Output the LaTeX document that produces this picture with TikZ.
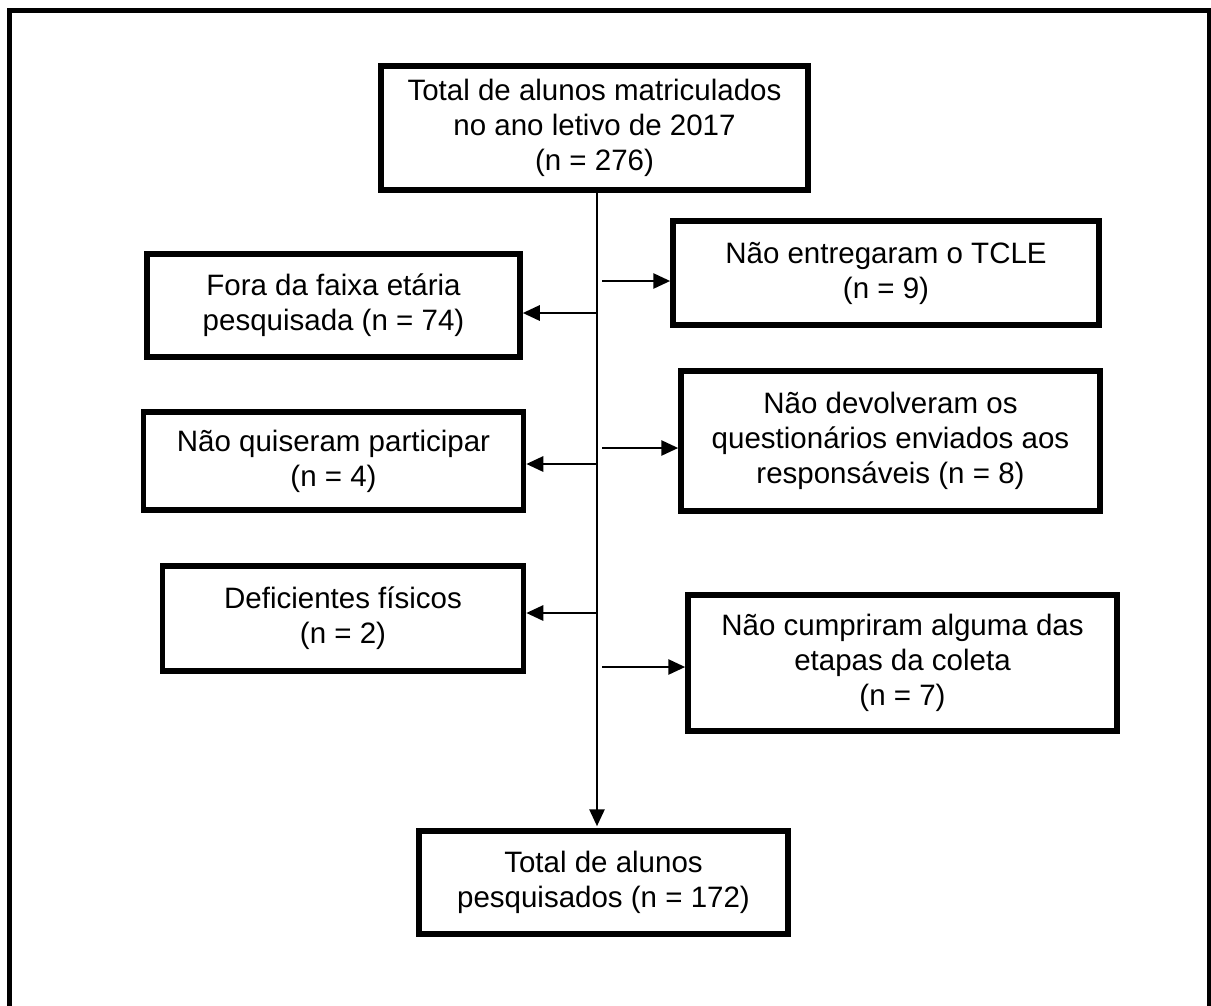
\documentclass[tikz,border=0pt]{standalone}
\usepackage{fontspec}
\setmainfont{Liberation Sans}
\usetikzlibrary{positioning, arrows.meta}

\begin{document}
\begin{tikzpicture}[x=1pt, y=-1pt, on grid,
  box/.style={draw, line width=5.5pt, align=center, inner sep=0pt,
    font=\fontsize{29.5}{35}\selectfont},
  flow/.style={line width=2.8pt, -{Triangle[length=17pt, width=15pt]}}]
  \useasboundingbox (0,0) rectangle (1211,1005);
  \draw[line width=5.5pt] (9.5,1030) |- (1210,10.5) -- (1210,1030);

  \node[box, minimum width=427pt, minimum height=124pt] (top) at (594.5,128)
    {Total de alunos matriculados\\no ano letivo de 2017\\(n = 276)};
  \node[box, minimum width=373pt, minimum height=103pt] (out1)
    [below left=177.5pt and 261pt of top] {Fora da faixa etária\\pesquisada (n = 74)};
  \node[box, minimum width=426pt, minimum height=104pt] (drop1)
    [below right=145pt and 291.5pt of top] {Não entregaram o TCLE\\(n = 9)};
  \node[box, minimum width=380pt, minimum height=98pt] (out2)
    [below=155.5pt of out1] {Não quiseram participar\\(n = 4)};
  \node[box, minimum width=419pt, minimum height=140pt] (drop2)
    [below=168pt of drop1, xshift=4.5pt] {Não devolveram os\\questionários enviados aos\\responsáveis (n = 8)};
  \node[box, minimum width=361pt, minimum height=105pt] (out3)
    [below=157.5pt of out2, xshift=9.5pt] {Deficientes físicos\\(n = 2)};
  \node[box, minimum width=429pt, minimum height=136pt] (drop3)
    [below=222pt of drop2, xshift=12pt] {Não cumpriram alguma das\\etapas da coleta\\(n = 7)};
  \node[box, minimum width=369pt, minimum height=103pt] (total)
    [below=754.5pt of top, xshift=9pt] {Total de alunos\\pesquisados (n = 172)};

  % main line and its branches
  \coordinate (trunk) at (597,0);
  \coordinate (j1) at (597,313);
  \coordinate (j2) at (597,464);
  \coordinate (j3) at (597,613);
  \coordinate (k1) at (602,281);
  \coordinate (k2) at (602,448);
  \coordinate (k3) at (602,667);

  \draw[flow, shorten >=2pt] (top.south -| trunk) -- (total.north -| trunk);
  \draw[flow] (j1) -- (j1 -| out1.east);
  \draw[flow] (j2) -- (j2 -| out2.east);
  \draw[flow] (j3) -- (j3 -| out3.east);
  \draw[flow] (k1) -- (k1 -| drop1.west);
  \draw[flow] (k2) -- (k2 -| drop2.west);
  \draw[flow] (k3) -- (k3 -| drop3.west);
\end{tikzpicture}
\end{document}
